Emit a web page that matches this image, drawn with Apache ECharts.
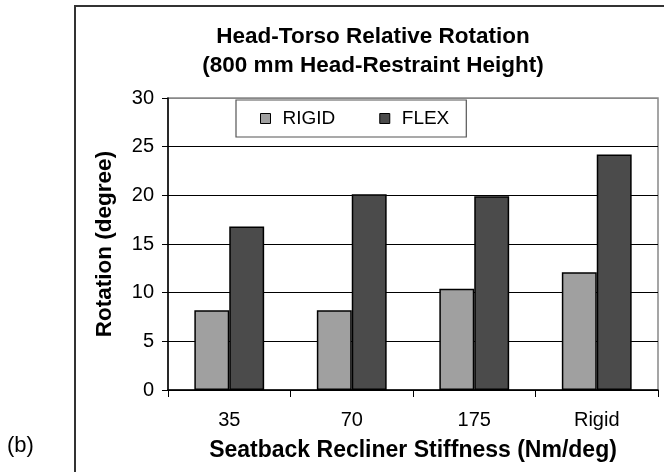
<!DOCTYPE html>
<html>
<head>
<meta charset="utf-8">
<script src="https://cdn.jsdelivr.net/npm/echarts@6/dist/echarts.min.js"></script>
<style>
html,body{margin:0;padding:0;background:#fff;}
#c{width:664px;height:472px;}
</style>
</head>
<body>
<div id="c"></div>
<script>
const categories = ['35', '70', '175', 'Rigid'];
const rigidValues = [8.2, 8.2, 10.4, 12.1];
const flexValues = [16.8, 20.1, 19.9, 24.2];
const seriesNames = ['RIGID', 'FLEX'];
const titleLines = ['Head-Torso Relative Rotation', '(800 mm Head-Restraint Height)'];
const xAxisTitle = 'Seatback Recliner Stiffness (Nm/deg)';
const yAxisTitle = 'Rotation (degree)';
const panelLabel = '(b)';

const FONT = '"Liberation Sans", Arial, sans-serif';
const chart = echarts.init(document.getElementById('c'), null, {renderer: 'canvas'});

chart.setOption({
  animation: false,
  backgroundColor: '#fff',
  textStyle: {fontFamily: FONT},
  graphic: [
    {type: 'rect', shape: {x: 75, y: 6, width: 720, height: 520},
     style: {fill: 'none', stroke: '#333', lineWidth: 2}, z: -1},
    {type: 'text', x: 7, y: 446,
     style: {text: panelLabel, font: '22px ' + FONT, fill: '#000', textVerticalAlign: 'middle'}},
    {type: 'text', x: 373, y: 37,
     style: {text: titleLines[0], font: 'bold 22.5px ' + FONT, fill: '#000', textAlign: 'center', textVerticalAlign: 'middle'}},
    {type: 'text', x: 373, y: 66,
     style: {text: titleLines[1], font: 'bold 22.5px ' + FONT, fill: '#000', textAlign: 'center', textVerticalAlign: 'middle'}}
  ],
  legend: {
    data: seriesNames,
    icon: 'rect',
    left: 236, top: 100,
    padding: [9, 17, 9, 24],
    itemWidth: 10, itemHeight: 10, itemGap: 44,
    borderColor: '#555', borderWidth: 1.2,
    backgroundColor: '#fff',
    textStyle: {fontFamily: FONT, fontSize: 19, color: '#000', padding: [0, 0, 0, 7]},
    itemStyle: {borderColor: '#000', borderWidth: 1}
  },
  grid: {left: 168, top: 98, right: 6, bottom: 82, show: true, borderColor: '#888', borderWidth: 1.5},
  xAxis: {
    type: 'category', data: categories,
    axisLine: {lineStyle: {color: '#000', width: 1.5}},
    axisTick: {show: true, length: 7, lineStyle: {color: '#000', width: 1}},
    axisLabel: {fontFamily: FONT, fontSize: 20, color: '#000', margin: 20},
    name: xAxisTitle, nameLocation: 'middle', nameGap: 49,
    nameTextStyle: {fontFamily: FONT, fontSize: 23, fontWeight: 'bold', color: '#000'}
  },
  yAxis: {
    type: 'value', min: 0, max: 30, interval: 5,
    axisLine: {show: true, lineStyle: {color: '#000', width: 1.5}},
    axisTick: {show: true, length: 6, lineStyle: {color: '#000', width: 1}},
    axisLabel: {fontFamily: FONT, fontSize: 20, color: '#000', margin: 14},
    splitLine: {show: true, lineStyle: {color: ['#000','#000','#000','#000','#000','#000','#888'], width: 1}},
    name: yAxisTitle, nameLocation: 'middle', nameGap: 52,
    nameTextStyle: {fontFamily: FONT, fontSize: 22.5, fontWeight: 'bold', color: '#000'}
  },
  series: [
    {name: seriesNames[0], type: 'bar', data: rigidValues, barGap: '0%', barCategoryGap: '43%',
     itemStyle: {color: '#a0a0a0', borderColor: '#000', borderWidth: 1.5}},
    {name: seriesNames[1], type: 'bar', data: flexValues, barGap: '0%', barCategoryGap: '43%',
     itemStyle: {color: '#4b4b4b', borderColor: '#000', borderWidth: 1.5}}
  ]
});
</script>
</body>
</html>
